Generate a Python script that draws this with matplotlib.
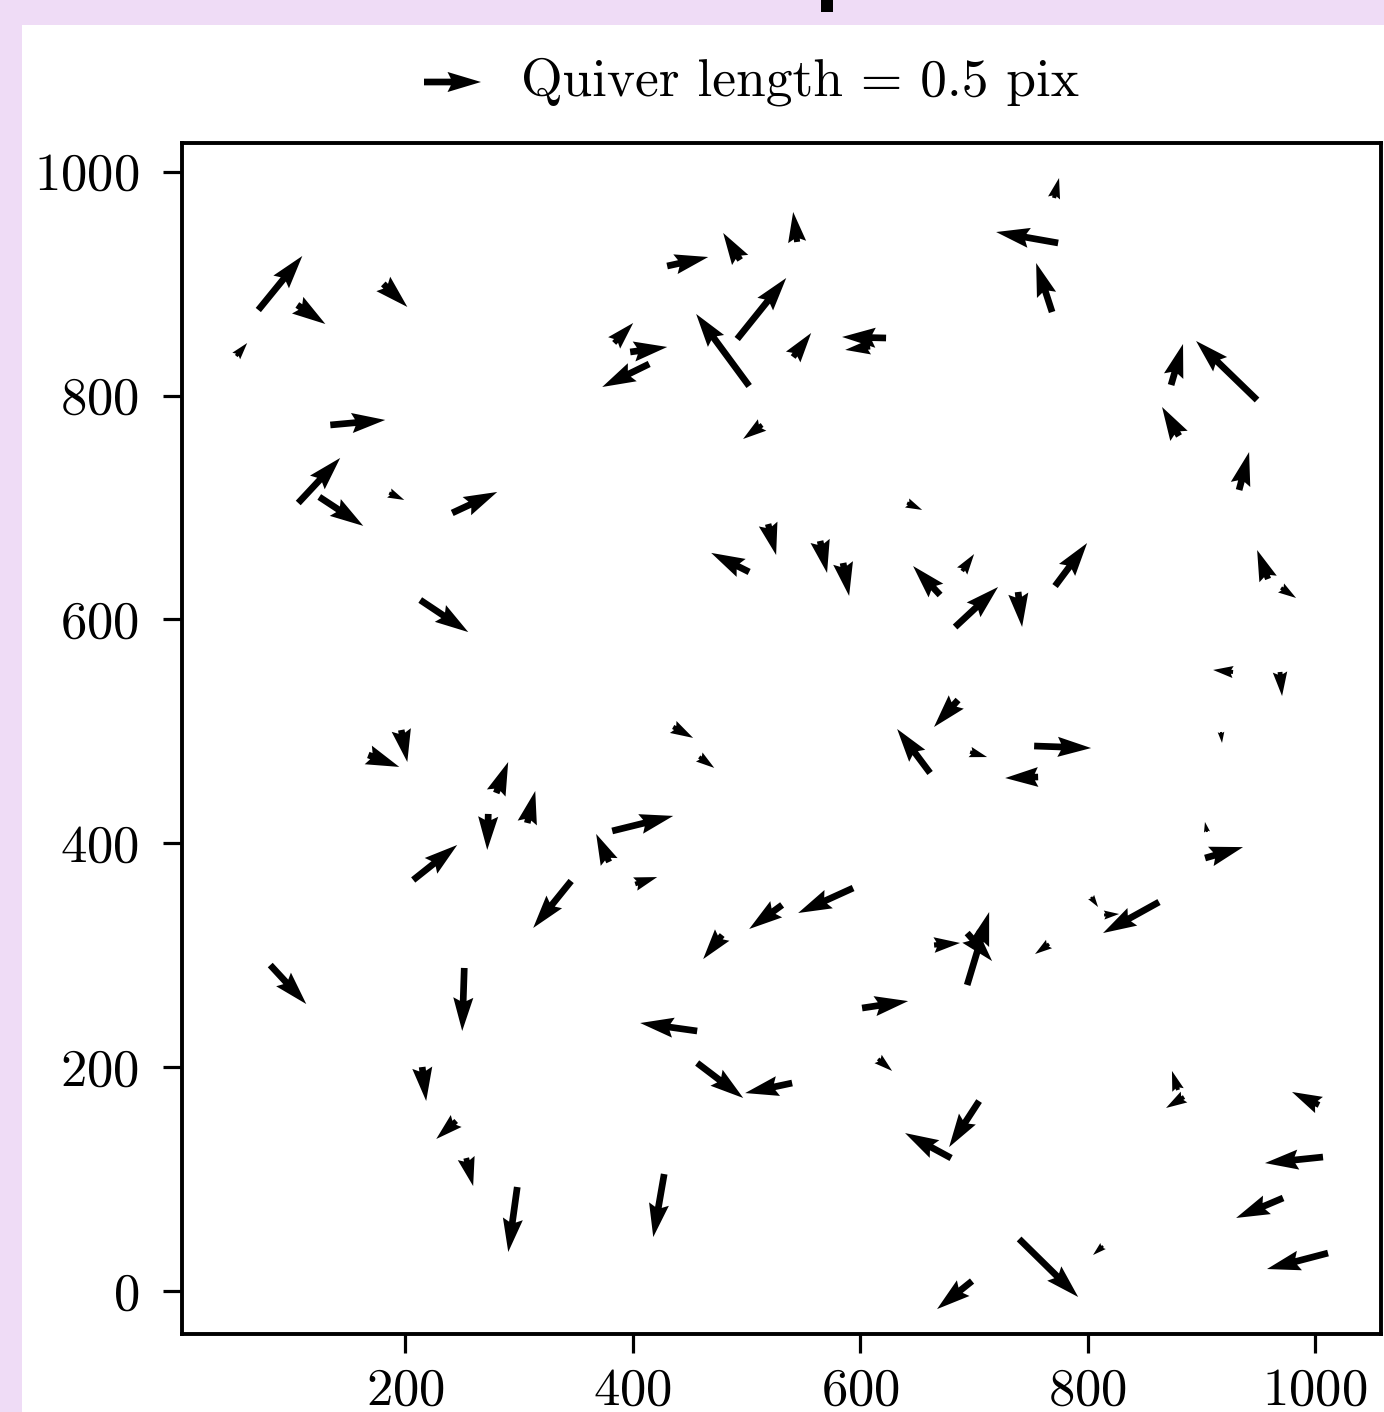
"""Quiver plot of sub-pixel shifts, with quiver key above the axes."""

import matplotlib

matplotlib.use("Agg")
import matplotlib.pyplot as plt  # noqa: E402
from matplotlib.patches import Rectangle  # noqa: E402

plt.rcParams["font.family"] = ["cmr10", "DejaVu Serif"]
plt.rcParams["mathtext.fontset"] = "cm"
plt.rcParams["axes.formatter.use_mathtext"] = True
plt.rcParams["axes.unicode_minus"] = False

# arrow tails (data coords) and shifts (pix)
x = [70.8, 105.1, 51.4, 180.7, 134.1, 105.9, 124.4, 185.9, 241.3, 213.2,
     167.5, 196.5, 280.0, 273.0, 307.3, 207.0, 345.9, 81.3, 251.9, 214.9,
     244.8, 253.6, 298.5, 531.4, 593.8, 478.7, 601.7, 456.7, 615.8, 456.7,
     540.2, 680.0, 427.7, 698.4, 694.1, 694.1, 665.0, 766.1, 862.8, 803.1,
     814.5, 879.5, 884.8, 1003.5, 1007.0, 971.9, 1011.4, 739.8, 813.6, 704.6,
     430.3, 494.5, 544.6, 491.9, 502.4, 383.7, 397.8, 414.5, 541.1, 622.8,
     608.8, 513.8, 641.3, 519.1, 770.5, 774.1, 768.8, 873.4, 949.0, 880.4,
     933.2, 689.7, 683.5, 738.9, 771.4, 958.7, 970.1, 927.9, 969.2, 917.3,
     753.0, 696.7, 756.5, 905.0, 903.3, 502.4, 564.8, 585.0, 670.3, 435.6,
     458.5, 661.5, 686.1, 382.0, 379.3, 402.2]
y = [876.4, 880.9, 835.3, 899.7, 773.7, 704.0, 709.4, 712.9, 695.1, 617.3,
     478.9, 501.2, 444.9, 426.2, 418.1, 367.2, 366.3, 291.2, 288.6, 200.1,
     151.9, 118.8, 92.9, 344.9, 360.0, 318.0, 252.8, 232.3, 207.3, 203.7,
     185.8, 118.8, 104.5, 8.9, 273.4, 319.8, 309.1, 310.0, 347.5, 352.0,
     335.9, 179.6, 173.3, 166.2, 119.7, 83.1, 33.9, 46.5, 40.2, 169.7,
     915.7, 921.1, 937.2, 850.5, 808.5, 847.0, 838.9, 828.2, 834.4, 851.4,
     843.4, 773.7, 704.0, 685.2, 976.5, 936.3, 874.6, 809.4, 796.0, 763.9,
     715.6, 643.2, 593.2, 624.5, 629.8, 636.1, 628.1, 553.0, 553.0, 499.4,
     486.9, 481.5, 459.2, 410.1, 386.8, 642.4, 670.1, 650.4, 621.8, 503.9,
     477.1, 462.8, 528.0, 411.0, 383.3, 363.6]
u = [0.386, 0.246, 0.096, 0.211, 0.482, 0.368, 0.386, 0.132, 0.395, 0.421,
     0.272, 0.053, 0.105, -0.009, 0.070, 0.386, -0.333, 0.316, -0.018, 0.035,
     -0.175, 0.061, -0.079, -0.289, -0.482, -0.167, 0.404, -0.500, 0.123, 0.404,
     -0.412, -0.404, -0.096, -0.307, 0.193, 0.219, 0.228, -0.123, -0.491, 0.061,
     0.132, -0.053, -0.158, -0.237, -0.509, -0.412, -0.535, 0.518, -0.088, -0.263,
     0.360, -0.149, -0.035, 0.430, -0.465, 0.167, 0.325, -0.412, 0.158, -0.386,
     -0.219, -0.167, 0.132, 0.070, 0.044, -0.544, -0.140, 0.105, -0.535, -0.149,
     0.088, 0.105, 0.377, 0.035, 0.281, -0.096, 0.132, -0.175, 0.018, 0.009,
     0.500, 0.149, -0.289, -0.018, 0.333, -0.333, 0.061, 0.053, -0.237, 0.175,
     0.132, -0.289, -0.211, 0.535, -0.114, 0.193]
v = [0.474, -0.167, 0.114, -0.202, 0.044, 0.395, -0.254, -0.061, 0.184, -0.281,
     -0.105, -0.281, 0.272, -0.316, 0.281, 0.307, -0.412, -0.342, -0.553, -0.298,
     -0.158, -0.246, -0.570, -0.211, -0.219, -0.211, 0.061, 0.070, -0.105, -0.307,
     -0.088, 0.219, -0.553, -0.246, 0.640, -0.246, 0.018, -0.088, -0.272, -0.088,
     0.009, 0.167, -0.096, 0.114, -0.053, -0.175, -0.140, -0.509, -0.079, -0.404,
     0.079, 0.237, 0.263, 0.535, 0.632, 0.175, 0.044, -0.202, 0.211, 0.009,
     -0.026, -0.123, -0.061, -0.272, 0.175, 0.096, 0.430, 0.360, 0.518, 0.254,
     0.333, 0.149, 0.351, -0.307, 0.377, 0.254, -0.088, 0.018, -0.211, -0.096,
     -0.018, -0.044, -0.009, 0.088, 0.096, 0.167, -0.281, -0.289, 0.254, -0.096,
     -0.096, 0.386, -0.237, 0.132, 0.246, 0.061]

xticks = [200, 400, 600, 800, 1000]
yticks = [0, 200, 400, 600, 800, 1000]
key_u = 0.5
key_label = "Quiver length = 0.5 pix"

W, H = 1384, 1412
fig = plt.figure(figsize=(W / 100, H / 100), dpi=100)
fig.patch.set_facecolor("#EFDCF6")
# white page area (screenshot is cropped on the left/top)
fig.add_artist(Rectangle((22 / W, 0), 1 - 22 / W, (H - 25) / H, transform=fig.transFigure,
                         facecolor="white", edgecolor="none", zorder=-10))
fig.add_artist(Rectangle((821 / W, (H - 12) / H), 12 / W, 12 / H, transform=fig.transFigure,
                         facecolor="black", edgecolor="none", zorder=-9))

ax = fig.add_axes([182 / W, (H - 1334) / H, (1381 - 182) / W, (1334 - 143) / H])
q = ax.quiver(x, y, u, v, angles="uv", units="inches", width=0.067,
              scale_units="inches", scale=0.5 / 0.57, color="k")
ax.quiverkey(q, X=481 / W, Y=(H - 82) / H, U=key_u, label=key_label, labelpos="E",
             coordinates="figure", labelsep=0.40, fontproperties={"size": 38.5})

ax.set_xlim(3.7, 1058)
ax.set_ylim(-38.4, 1025.6)
ax.set_xticks(xticks)
ax.set_yticks(yticks)
ax.tick_params(labelsize=38, length=14, width=2.3, direction="out")
ax.tick_params(axis="y", pad=17)
ax.tick_params(axis="x", pad=10)
for s in ax.spines.values():
    s.set_linewidth(2.8)

fig.savefig("out.png", dpi=100, facecolor=fig.get_facecolor())
